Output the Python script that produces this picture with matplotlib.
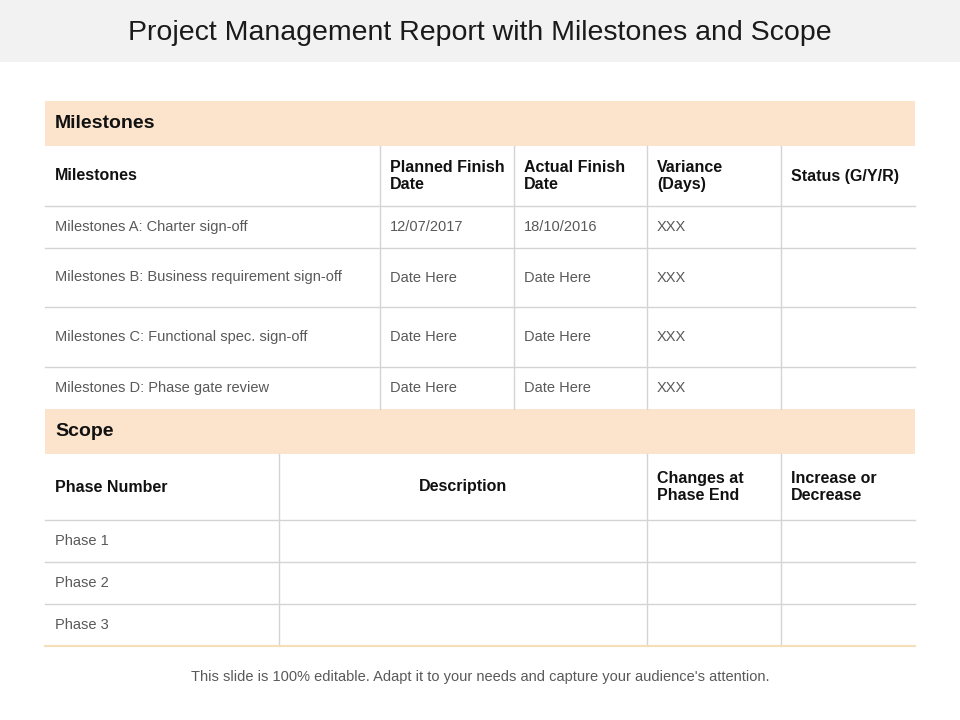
import matplotlib
matplotlib.use("Agg")
import matplotlib.pyplot as plt
from matplotlib.patches import Rectangle

plt.rcParams["font.family"] = "Liberation Sans"

title = "Project Management Report with Milestones and Scope"
footer = "This slide is 100% editable. Adapt it to your needs and capture your audience's attention."
ms_headers = ["Milestones", "Planned Finish\nDate", "Actual Finish\nDate", "Variance\n(Days)", "Status (G/Y/R)"]
ms_rows = [
    ["Milestones A: Charter sign-off", "12/07/2017", "18/10/2016", "XXX", ""],
    ["Milestones B: Business requirement sign-off", "Date Here", "Date Here", "XXX", ""],
    ["Milestones C: Functional spec. sign-off", "Date Here", "Date Here", "XXX", ""],
    ["Milestones D: Phase gate review", "Date Here", "Date Here", "XXX", ""],
]
sc_headers = ["Phase Number", "Description", "Changes at\nPhase End", "Increase or\nDecrease"]
sc_rows = [["Phase 1", "", "", ""], ["Phase 2", "", "", ""], ["Phase 3", "", "", ""]]

fig = plt.figure(figsize=(9.6, 7.2), dpi=100)
ax = fig.add_axes([0, 0, 1, 1])
ax.set_xlim(0, 960); ax.set_ylim(720, 0); ax.axis("off")

PEACH = "#fce4cc"; LINE = "#d4d4d4"; TXT = "#595959"
ax.add_patch(Rectangle((0, 0), 960, 62, color="#f2f2f2", lw=0))
ax.text(480, 33, title, ha="center", va="center", fontsize=20.5, color="#1a1a1a")

L, R = 45, 915

def section(top, label, headers, rows, xs, hdr_h, row_hs, center_cols=()):
    ax.add_patch(Rectangle((L, top), R - L, 45, color=PEACH, lw=0))
    ax.text(55, top + 23, label, ha="left", va="center", fontsize=14, fontweight="bold", color="#111")
    y = top + 45
    ys = [y, y + hdr_h]
    for h in row_hs:
        ys.append(ys[-1] + h)
    for i, h in enumerate(headers):
        if i in center_cols:
            ax.text((xs[i] + xs[i + 1]) / 2, (ys[0] + ys[1]) / 2, h, ha="center", va="center",
                    fontsize=11.5, fontweight="bold", color="#111")
        else:
            ax.text(xs[i] + 10, (ys[0] + ys[1]) / 2, h, ha="left", va="center",
                    fontsize=11.5, fontweight="bold", color="#111", linespacing=1.15)
    for r, row in enumerate(rows):
        for i, v in enumerate(row):
            ax.text(xs[i] + 10, (ys[r + 1] + ys[r + 2]) / 2, v, ha="left", va="center",
                    fontsize=10.5, color=TXT)
    for yy in ys[1:-1]:
        ax.plot([L, R], [yy, yy], color=LINE, lw=1)
    for xx in xs[1:-1]:
        ax.plot([xx, xx], [ys[0], ys[-1]], color=LINE, lw=1)
    return ys[-1]

section(101, "Milestones", ms_headers, ms_rows, [45, 380, 514, 647, 781, 915], 60, [42, 59, 60, 42])
bot = section(409, "Scope", sc_headers, sc_rows, [45, 279, 647, 781, 915], 66, [42, 42, 42], center_cols=(1,))
ax.plot([L, R], [bot, bot], color="#f5dfb8", lw=1.5)
ax.text(480, 677, footer, ha="center", va="center", fontsize=10.5, color="#595959")

fig.savefig("out.png", dpi=100)
